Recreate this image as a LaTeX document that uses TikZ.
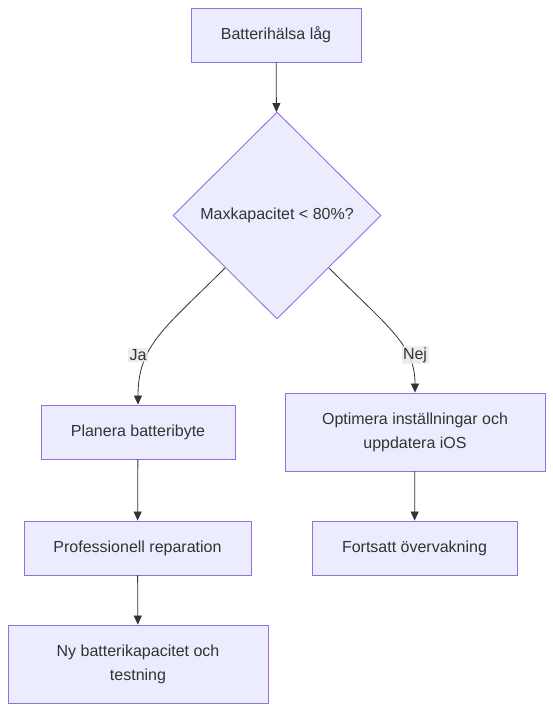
\documentclass[tikz,border=0pt]{standalone}
\usepackage{fontspec}
\setmainfont{Liberation Sans}
\usetikzlibrary{shapes.geometric,arrows.meta}
\definecolor{nodefill}{HTML}{ECECFF}
\definecolor{nodeline}{HTML}{9370DB}
\definecolor{txt}{HTML}{333333}
\definecolor{lblbg}{HTML}{E8E8E8}
\tikzset{
  box/.style={draw=nodeline,fill=nodefill,line width=0.9pt,text=txt,inner sep=0pt,align=center,font=\fontsize{16}{24}\selectfont},
  dec/.style={draw=nodeline,fill=nodefill,line width=0.9pt,text=txt,diamond,inner sep=0pt,minimum width=208pt,minimum height=207pt,font=\fontsize{16}{24}\selectfont},
  conn/.style={draw=txt,line width=0.8pt,-{Triangle[length=9pt,width=8pt]}},
  lbl/.style={fill=lblbg,fill opacity=0.8,text opacity=1,text=txt,inner sep=1.5pt,font=\fontsize{16}{18}\selectfont}
}
\begin{document}
\begin{tikzpicture}[x=1pt,y=-1pt]
\useasboundingbox (0,0) rectangle (553,711);
\node[box,minimum width=170pt,minimum height=54pt] (a) at (276,35) {Batterihälsa låg};
\node[dec] (b) at (277,215.5) {Maxkapacitet < 80\%?};
\node[box,minimum width=194pt,minimum height=54pt] (c) at (138,432) {Planera batteribyte};
\node[box,minimum width=260pt,minimum height=78pt] (d) at (415,432) {Optimera inställningar och\\uppdatera iOS};
\node[box,minimum width=227pt,minimum height=54pt] (e) at (137.5,548) {Professionell reparation};
\node[box,minimum width=205pt,minimum height=54pt] (f) at (414.5,548) {Fortsatt övervakning};
\node[box,minimum width=260pt,minimum height=78pt] (g) at (138,664) {Ny batterikapacitet och\\testning};
\coordinate (bl) at (225,268);
\coordinate (br) at (329,268);
\draw[conn] (a) -- (b);
\draw[conn] (bl) .. controls (165,328) and (138,345) .. (c.north);
\draw[conn] (br) .. controls (389,328) and (415,345) .. (d.north);
\draw[conn] (c) -- (e);
\draw[conn] (e) -- (g);
\draw[conn] (d) -- (f);
\node[lbl] (ja) at (138,355) {Ja};
\node[lbl] (nej) at (415,355) {Nej};
\end{tikzpicture}
\end{document}
